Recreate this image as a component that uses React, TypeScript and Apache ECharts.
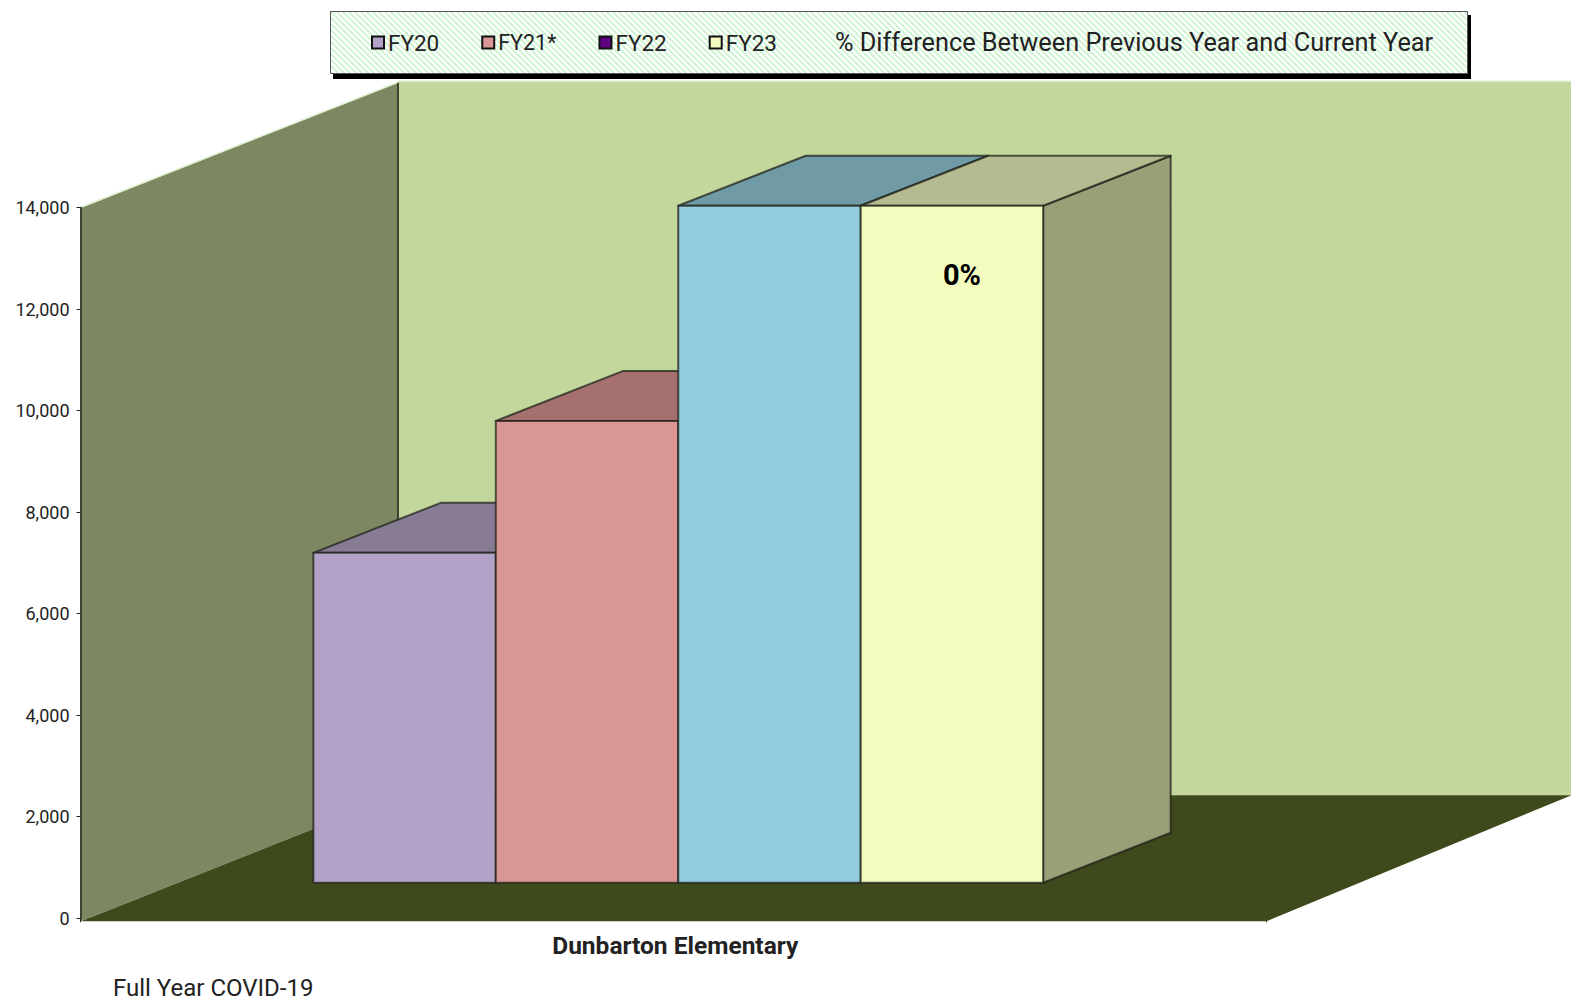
import React, { useEffect, useRef } from "react";
import * as echarts from "echarts";

const categories = ["Dunbarton Elementary"];
const seriesNames = ["FY20", "FY21*", "FY22", "FY23"];
const fy20 = [6500];
const fy21 = [9100];
const fy22 = [13340];
const fy23 = [13340];
const percentName = "% Difference Between Previous Year and Current Year";
const percentDifference = [0];
const footnote = "Full Year COVID-19";

const FONT = "Roboto";
const EDGE = "rgba(28,30,24,0.72)";

// Face colours of the extruded bars: front, top, side.
const faces = [
  ["#B3A2C7", "#887C95", "#7E7290"],
  ["#D99694", "#A5706E", "#97605E"],
  ["#93CDDD", "#6F9AA6", "#5F8A96"],
  ["#F3FBBF", "#B5BB90", "#9B9F78"],
];
const legendSwatches = ["#B3A2C7", "#D99694", "#5F0080", "#F3FBBF"];

// Diagonal light-green hatch used behind the legend.
function makeHatch(): string {
  const size = 6;
  const c = document.createElement("canvas");
  c.width = size;
  c.height = size;
  const g = c.getContext("2d")!;
  g.fillStyle = "#ffffff";
  g.fillRect(0, 0, size, size);
  g.fillStyle = "#D2F5D6";
  for (let i = 0; i < size; i++) {
    g.fillRect(i, i, 1, 1);
    g.fillRect((i + 1) % size, i, 1, 1);
    g.fillRect((i + 2) % size, i, 1, 1);
  }
  return c.toDataURL();
}

export default function App() {
  const ref = useRef<HTMLDivElement>(null);

  useEffect(() => {
    document.body.style.margin = "0";
    document.body.style.background = "#fff";
    const chart = echarts.init(ref.current!, undefined, { renderer: "svg" });

    const DEPTH_X = 127.5;
    const DEPTH_Y = 50;
    const LIFT = 35.5; // how far the bar bases sit above the axis zero
    const SHIFT = 5;
    const BAR_RATIO = 0.1539;

    const barSeries = (name: string, values: number[], index: number) => ({
      type: "custom",
      name,
      z: 2,
      coordinateSystem: "cartesian2d",
      encode: { x: 0, y: 1 },
      itemStyle: { color: legendSwatches[index] },
      data: values.map((v, i) => [categories[i], v]),
      renderItem: (_: any, api: any) => {
        const band = api.size([1, 0])[0];
        const w = band * BAR_RATIO;
        const cx = api.coord([api.value(0), 0])[0] + SHIFT;
        const base = api.coord([api.value(0), 0])[1] - LIFT;
        const top = api.coord([api.value(0), api.value(1)])[1] - LIFT;
        const x0 = cx + (index - 2) * w;
        const x1 = x0 + w;
        const [front, lid, side] = faces[index];
        const face = (points: number[][], fill: string) => ({
          type: "polygon",
          shape: { points },
          style: { fill, stroke: EDGE, lineWidth: 2, lineJoin: "round" },
        });
        return {
          type: "group",
          children: [
            face(
              [[x1, top], [x1 + DEPTH_X, top - DEPTH_Y], [x1 + DEPTH_X, base - DEPTH_Y], [x1, base]],
              side
            ),
            face(
              [[x0, top], [x0 + DEPTH_X, top - DEPTH_Y], [x1 + DEPTH_X, top - DEPTH_Y], [x1, top]],
              lid
            ),
            face([[x0, top], [x1, top], [x1, base], [x0, base]], front),
          ],
        };
      },
    });

    const option: any = {
      animation: false,
      backgroundColor: "#ffffff",
      grid: { left: 80.5, top: 207.7, width: 1185.5, height: 710.5, containLabel: false },
      graphic: [
        { type: "rect", z: 0, shape: { x: 333, y: 15, width: 1138, height: 64 }, style: { fill: "#000" } },
        {
          type: "rect",
          z: 1,
          shape: { x: 330.5, y: 11.5, width: 1137, height: 62 },
          style: {
            fill: { image: makeHatch(), repeat: "repeat", imageWidth: 6, imageHeight: 6 },
            stroke: "#555",
            lineWidth: 1,
          },
        },
        {
          type: "text",
          left: 113,
          top: 976,
          style: { text: footnote, font: `400 24px ${FONT}`, fill: "#222" },
        },
      ],
      legend: {
        left: 367,
        top: 30,
        padding: [0, 0, 0, 4],
        itemGap: 42,
        itemWidth: 12,
        itemHeight: 12,
        selectedMode: false,
        icon: "rect",
        textStyle: { fontFamily: FONT, fontSize: 22.5, color: "#222", padding: [0, 0, 0, -1] },
        data: [
          ...seriesNames.map((name, i) => ({
            name,
            itemStyle: { color: legendSwatches[i], borderColor: "#111", borderWidth: 2 },
            textStyle: name === "FY21*" ? { fontSize: 21.5 } : undefined,
          })),
          { name: percentName, icon: "none", textStyle: { fontSize: 25.3 } },
        ],
      },
      xAxis: {
        type: "category",
        data: categories,
        offset: 3,
        axisLine: { show: true, lineStyle: { color: "#777", width: 1 } },
        axisTick: { show: true, length: 4, lineStyle: { color: "#222" } },
        axisLabel: {
          fontFamily: FONT,
          fontSize: 24.5,
          fontWeight: "bold",
          color: "#222",
          margin: 12,
          padding: [0, 0, 0, 4],
        },
      },
      yAxis: {
        type: "value",
        min: 0,
        max: 14000,
        interval: 2000,
        z: 10,
        splitLine: { show: false },
        axisLine: { show: true, lineStyle: { color: "#3C4433", width: 2 } },
        axisTick: { show: true, length: 4, lineStyle: { color: "#222" } },
        axisLabel: { fontFamily: FONT, fontSize: 18, color: "#222", margin: 11 },
      },
      series: [
        // Room behind the bars: left wall, back wall and floor.
        {
          type: "custom",
          name: "room",
          z: 1,
          silent: true,
          coordinateSystem: "cartesian2d",
          encode: { x: 0, y: 1 },
          data: [[categories[0], 0]],
          renderItem: (_: any, api: any) => {
            const band = api.size([1, 0])[0];
            const xl = api.coord([0, 0])[0] - band / 2 + 0.5;
            const xr = xl + band;
            const y0 = api.coord([0, 0])[1];
            const yt = api.coord([0, 14000])[1];
            const W = api.getWidth();
            const dx = 317;
            const dy = 125;
            const fl = y0 + 3;
            const yb = y0 - 123;
            const ybt = yt - dy;
            return {
              type: "group",
              children: [
                {
                  type: "polygon",
                  shape: { points: [[xl + dx, ybt - 1], [W + 5, ybt - 1], [W + 5, yb], [xl + dx, yb]] },
                  style: { fill: "#C3D69B" },
                },
                {
                  type: "polyline",
                  shape: { points: [[xl + dx, ybt - 1.5], [W + 5, ybt - 1.5]] },
                  style: { stroke: "#DCEED0", lineWidth: 1.5, fill: "none" },
                },
                {
                  type: "polygon",
                  shape: { points: [[xl, yt], [xl + dx, ybt], [xl + dx, yb], [xl, fl]] },
                  style: { fill: "#7D8762" },
                },
                {
                  type: "polyline",
                  shape: { points: [[xl, yt - 0.5], [xl + dx, ybt - 0.5]] },
                  style: { stroke: "#DDF0D0", lineWidth: 1.5, fill: "none" },
                },
                {
                  type: "polyline",
                  shape: { points: [[xl + dx, ybt], [xl + dx, yb]] },
                  style: { stroke: "#3C4433", lineWidth: 2, fill: "none" },
                },
                {
                  type: "polygon",
                  shape: { points: [[xl, fl], [xl + dx, yb], [W + 20, yb], [xr + 305, yb], [xr, fl]] },
                  style: { fill: "#3F4A1C" },
                },
              ],
            };
          },
        },
        barSeries(seriesNames[0], fy20, 0),
        barSeries(seriesNames[1], fy21, 1),
        barSeries(seriesNames[2], fy22, 2),
        barSeries(seriesNames[3], fy23, 3),
        // Percent-change label printed on the FY23 bar.
        {
          type: "custom",
          name: percentName,
          z: 3,
          coordinateSystem: "cartesian2d",
          encode: { x: 0, y: 1 },
          data: percentDifference.map((v, i) => [categories[i], fy23[i], v]),
          renderItem: (_: any, api: any) => {
            const band = api.size([1, 0])[0];
            const p = api.coord([api.value(0), api.value(1)]);
            return {
              type: "text",
              style: {
                text: `${api.value(2)}%`,
                x: p[0] + band * 0.2435,
                y: p[1] + 34,
                align: "center",
                verticalAlign: "middle",
                font: `700 29px ${FONT}`,
                fill: "#000",
              },
            };
          },
        },
      ],
    };

    chart.setOption(option);
    return () => chart.dispose();
  }, []);

  return (
    <div
      ref={ref}
      style={{ position: "fixed", left: 0, top: 0, width: 1571, height: 1001, overflow: "hidden" }}
    />
  );
}
